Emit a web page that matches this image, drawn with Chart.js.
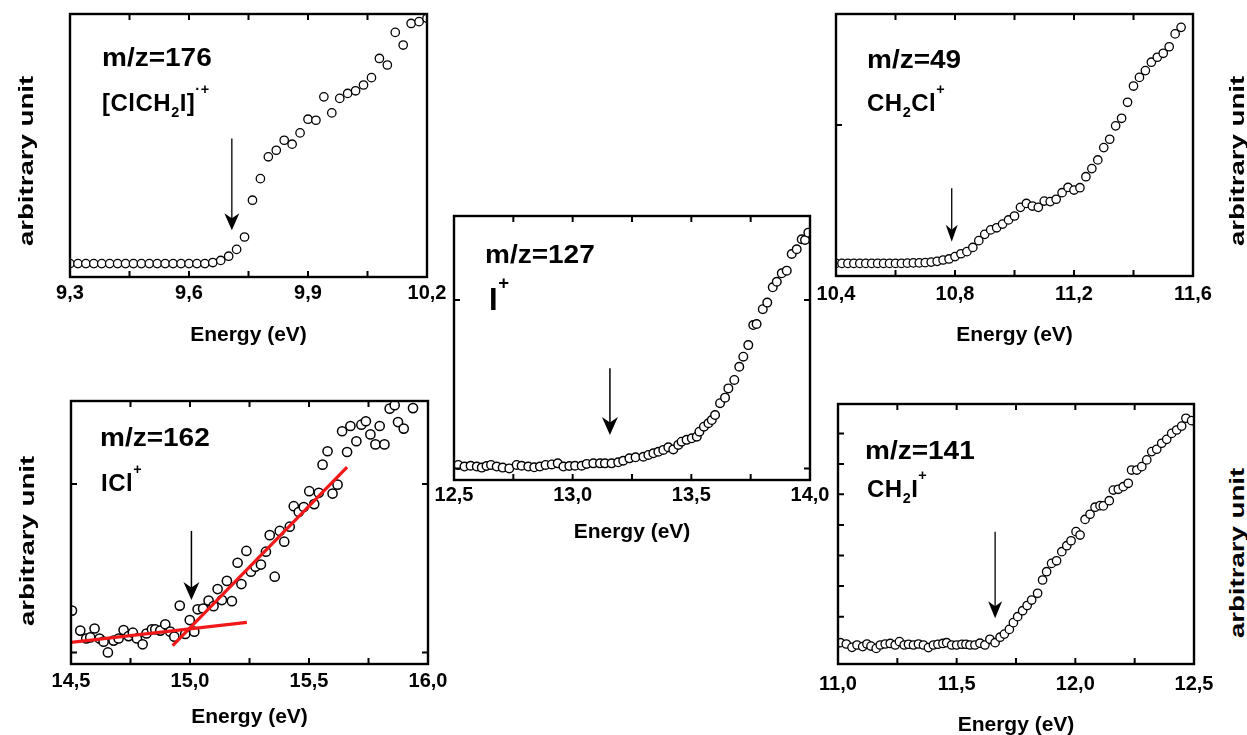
<!DOCTYPE html>
<html>
<head>
<meta charset="utf-8">
<title>Ion yield curves near threshold</title>
<script src="https://cdn.jsdelivr.net/npm/chart.js@4.4.1/dist/chart.umd.min.js"></script>
<style>
  html, body { margin: 0; padding: 0; background: #fff; }
  #page { position: relative; width: 1247px; height: 735px; overflow: hidden;
          font-family: "Liberation Sans", Arial, sans-serif; font-weight: bold; color: #000; }
  #page canvas { position: absolute; }
  .lbl { position: absolute; line-height: 1; white-space: nowrap; }
  .mz { font-size: 25px; transform: scaleX(1.12); transform-origin: left center; }
  .ion { font-size: 24px; letter-spacing: 0.5px; }
  .ion sub, .ion sup { font-size: 0.6em; position: relative; vertical-align: baseline; line-height: 0; }
  .ion sub { top: 0.45em; }
  .ion sup { top: -1.15em; }
  .yt { position: absolute; font-size: 20px; line-height: 1; white-space: nowrap;
        transform: translate(-50%, -50%) rotate(-90deg) scaleX(1.38); }
</style>
</head>
<body>
<div id="page">
  <div class="lbl mz" style="left:102px;top:45px">m/z=176</div>
  <div class="lbl ion" style="left:102px;top:91px">[ClCH<sub>2</sub>I]<sup>·+</sup></div>

  <div class="lbl mz" style="left:867px;top:47px">m/z=49</div>
  <div class="lbl ion" style="left:867px;top:91px">CH<sub>2</sub>Cl<sup>+</sup></div>

  <div class="lbl mz" style="left:485px;top:242px">m/z=127</div>
  <div class="lbl ion" style="left:489px;top:284px;font-size:31px">I<sup>+</sup></div>

  <div class="lbl mz" style="left:100px;top:425px">m/z=162</div>
  <div class="lbl ion" style="left:101px;top:471px">ICl<sup>+</sup></div>

  <div class="lbl mz" style="left:865px;top:438px">m/z=141</div>
  <div class="lbl ion" style="left:867px;top:477px">CH<sub>2</sub>I<sup>+</sup></div>

  <div class="yt" style="left:26px;top:161px">arbitrary unit</div>
  <div class="yt" style="left:27px;top:541px">arbitrary unit</div>
  <div class="yt" style="left:1237px;top:161px">arbitrary unit</div>
  <div class="yt" style="left:1237px;top:553px">arbitrary unit</div>
</div>
<script>
// ---- data (energy in eV, signal in arbitrary units 0-100) ----

// m/z=176  [ClCH2I]+
const e176 = [9.30, 9.32, 9.34, 9.36, 9.38, 9.40, 9.42, 9.44, 9.46, 9.48, 9.50, 9.52, 9.54, 9.56, 9.58, 9.60, 9.62, 9.64,
  9.66, 9.68, 9.70, 9.72, 9.74, 9.76, 9.78, 9.80, 9.82, 9.84, 9.86, 9.88, 9.90, 9.92, 9.94, 9.96, 9.98, 10.00,
  10.02, 10.04, 10.06, 10.08, 10.10, 10.12, 10.14, 10.16, 10.18, 10.20];
const i176 = [5.1, 5.1, 5.1, 5.1, 5.1, 5.1, 5.1, 5.1, 5.1, 5.1, 5.1, 5.1, 5.1, 5.1, 5.1, 5.1, 5.1, 5.1,
  5.5, 6.3, 7.9, 10.5, 15.2, 29.2, 37.4, 45.7, 48.2, 52.0, 50.5, 54.8, 60.0, 59.6, 68.5, 62.4, 67.9, 69.8,
  70.8, 73.0, 75.8, 83.1, 80.6, 93.0, 88.2, 96.4, 97.1, 98.4];
const arrow176 = [9.708, 52.7, 17.8];

// m/z=49  CH2Cl+
const e49 = [10.40, 10.42, 10.44, 10.46, 10.48, 10.50, 10.52, 10.54, 10.56, 10.58, 10.60, 10.62, 10.64, 10.66, 10.68, 10.70,
  10.72, 10.74, 10.76, 10.78, 10.80, 10.82, 10.84, 10.86, 10.88, 10.90, 10.92, 10.94, 10.96, 10.98, 11.00,
  11.02, 11.04, 11.06, 11.08, 11.10, 11.12, 11.14, 11.16, 11.18, 11.20, 11.22, 11.24, 11.26, 11.28, 11.30,
  11.32, 11.34, 11.36, 11.38, 11.40, 11.42, 11.44, 11.46, 11.48, 11.50, 11.52, 11.54, 11.56];
const i49 = [4.8, 4.8, 4.8, 4.8, 4.8, 4.8, 4.8, 4.8, 4.8, 4.8, 4.8, 4.8, 4.9, 5.0, 5.0, 5.1,
  5.3, 5.6, 6.1, 6.5, 7.4, 8.5, 9.3, 10.9, 13.5, 15.9, 17.6, 18.4, 19.8, 21.4, 22.9,
  26.2, 27.7, 26.7, 26.2, 28.6, 28.4, 29.3, 31.8, 33.8, 32.8, 33.7, 37.9, 41.0, 44.3, 49.0,
  52.2, 57.3, 60.2, 66.3, 72.5, 75.8, 78.4, 81.6, 83.5, 85.0, 87.5, 92.4, 94.9];
const arrow49 = [10.789, 33.5, 13.1];

// m/z=127  I+
const e127 = [12.518, 12.544, 12.570, 12.596, 12.617, 12.637, 12.656, 12.680, 12.705, 12.733,
  12.764, 12.785, 12.813, 12.838, 12.862, 12.886, 12.912, 12.937, 12.961, 12.986,
  13.010, 13.038, 13.059, 13.087, 13.115, 13.136, 13.164, 13.192, 13.213, 13.239, 13.265,
  13.298, 13.319, 13.340, 13.361, 13.382, 13.403, 13.424, 13.445, 13.459, 13.480,
  13.502, 13.523, 13.534, 13.553, 13.572, 13.586, 13.600, 13.621, 13.642, 13.656,
  13.681, 13.702, 13.719, 13.740, 13.761, 13.775, 13.801, 13.820, 13.843, 13.860,
  13.881, 13.902, 13.923, 13.944, 13.965, 13.979, 13.993];
const i127 = [5.7, 5.1, 5.4, 5.1, 4.7, 5.3, 5.7, 5.1, 4.7, 4.4,
  5.7, 5.4, 5.1, 4.8, 5.1, 5.7, 5.9, 6.3, 5.1, 5.3,
  5.4, 5.4, 6.1, 6.3, 6.3, 6.3, 6.3, 6.7, 7.3, 8.2, 8.6,
  8.8, 9.5, 10.1, 10.7, 11.4, 12.4, 11.6, 13.3, 14.5, 15.2,
  15.8, 16.4, 18.3, 20.2, 21.5, 22.7, 24.6, 29.1, 31.2, 34.7,
  37.9, 42.9, 46.7, 51.1, 58.7, 59.1, 64.7, 67.2, 73.0, 75.1,
  78.3, 79.3, 85.6, 87.4, 91.2, 90.9, 93.7];
const arrow127 = [13.157, 42.3, 17.0];

// m/z=162  ICl+
const e162 = [14.504, 14.539, 14.564, 14.581, 14.599, 14.620, 14.637, 14.655, 14.679, 14.700,
  14.721, 14.742, 14.760, 14.777, 14.801, 14.817, 14.840, 14.854, 14.875, 14.896,
  14.917, 14.934, 14.957, 14.980, 14.999, 15.018, 15.032, 15.055, 15.078, 15.099,
  15.116, 15.134, 15.155, 15.176, 15.200, 15.216, 15.237, 15.256, 15.275, 15.298,
  15.319, 15.335, 15.356, 15.377, 15.396, 15.419, 15.436, 15.457, 15.478, 15.501,
  15.522, 15.541, 15.557, 15.578, 15.599, 15.620, 15.639, 15.660, 15.674, 15.699,
  15.720, 15.739, 15.758, 15.779, 15.797, 15.817, 15.839, 15.860, 15.874, 15.898, 15.937];
const i162 = [20.3, 12.7, 9.7, 10.1, 13.5, 9.7, 8.5, 4.4, 8.9, 9.7,
  12.9, 10.6, 11.9, 9.7, 7.5, 11.6, 13.2, 13.2, 12.7, 15.1,
  12.3, 10.4, 22.2, 11.4, 16.7, 12.3, 20.8, 21.1, 24.1, 22.0,
  28.5, 24.3, 31.6, 23.9, 38.5, 30.4, 43.0, 35.1, 37.0, 37.8,
  42.7, 49.0, 33.2, 50.6, 46.5, 52.2, 60.0, 57.8, 59.7, 65.7,
  60.8, 65.1, 75.8, 80.9, 64.8, 68.2, 88.5, 80.6, 90.5, 84.7,
  91.0, 92.3, 87.3, 83.5, 90.5, 83.5, 97.1, 98.4, 92.0, 89.5, 97.3];
// linear fits below / above threshold
const fitBaseX = [14.50, 15.239];
const fitBaseY = [8.2, 15.8];
const fitRiseX = [14.927, 15.660];
const fitRiseY = [7.0, 74.9];
const arrow162 = [15.006, 50.6, 24.3];

// m/z=141  CH2I+
const e141 = [11.010, 11.035, 11.059, 11.080, 11.104, 11.122, 11.139, 11.161, 11.178, 11.199,
  11.220, 11.241, 11.259, 11.279, 11.297, 11.318, 11.339, 11.360, 11.381, 11.402,
  11.421, 11.442, 11.458, 11.479, 11.500, 11.522, 11.539,
  11.556, 11.577, 11.598, 11.619, 11.640, 11.662, 11.683, 11.701, 11.722, 11.739,
  11.757, 11.778, 11.797, 11.816, 11.841, 11.862, 11.879, 11.900, 11.921, 11.943,
  11.964, 11.982, 12.003, 12.020, 12.041, 12.062, 12.083, 12.104, 12.118, 12.143,
  12.160, 12.181, 12.202, 12.223, 12.237, 12.259, 12.280, 12.301, 12.322, 12.343,
  12.364, 12.385, 12.406, 12.427, 12.448, 12.466, 12.490];
const i141 = [8.2, 7.7, 6.4, 7.3, 6.7, 7.7, 6.9, 6.0, 7.3, 7.7,
  7.9, 7.3, 8.6, 7.3, 7.6, 7.3, 7.7, 7.3, 6.3, 7.3,
  7.6, 7.9, 8.2, 7.3, 7.3, 7.6, 7.6,
  7.3, 7.3, 8.0, 7.3, 9.5, 8.2, 10.3, 11.5, 13.3, 15.9,
  18.2, 20.5, 22.5, 24.6, 27.2, 32.3, 35.5, 38.7, 39.7, 43.2,
  45.5, 47.4, 50.9, 49.6, 55.6, 57.6, 60.3, 60.9, 60.8, 62.8,
  66.9, 67.2, 68.2, 69.5, 74.6, 74.6, 75.9, 78.5, 81.7, 82.6,
  84.9, 86.4, 88.7, 90.0, 91.5, 94.5, 93.6];
const arrow141 = [11.662, 50.9, 17.6];

// tick values
const ticks176 = [9.3, 9.6, 9.9, 10.2], minor176 = [9.45, 9.75, 10.05];
const ticks49 = [10.4, 10.8, 11.2, 11.6], minor49 = [10.6, 11.0, 11.4];
const ticks127 = [12.5, 13.0, 13.5, 14.0], minor127 = [12.75, 13.25, 13.75];
const ticks162 = [14.5, 15.0, 15.5, 16.0], minor162 = [14.75, 15.25, 15.75];
const ticks141 = [11.0, 11.5, 12.0, 12.5], minor141 = [11.25, 11.75, 12.25];
const yTicks49 = [57.6];
const yTicks127 = [4.4, 68.2];
const yTicks162 = [4.4, 68.4];
const yTicks141 = [18.2, 30.0, 41.7, 53.5, 65.3, 76.9, 88.7];

// frame, inward ticks and threshold arrow
const frameTicks = {
  id: 'frameTicks',
  afterDatasetsDraw(chart, args, o) {
    const {ctx, chartArea: a, scales: {x, y}} = chart;
    const len = 6;
    ctx.save();
    ctx.strokeStyle = '#000';
    ctx.fillStyle = '#000';
    ctx.lineWidth = 2;
    ctx.beginPath();
    o.xTicks.forEach(v => {
      const px = x.getPixelForValue(v);
      ctx.moveTo(px, a.bottom); ctx.lineTo(px, a.bottom - len);
      ctx.moveTo(px, a.top); ctx.lineTo(px, a.top + len);
    });
    o.yLeft.forEach(v => {
      const py = y.getPixelForValue(v);
      ctx.moveTo(a.left, py); ctx.lineTo(a.left + len, py);
    });
    o.yRight.forEach(v => {
      const py = y.getPixelForValue(v);
      ctx.moveTo(a.right, py); ctx.lineTo(a.right - len, py);
    });
    ctx.stroke();

    if (o.arrow) {
      const [hw, hl] = o.head;
      const ax = x.getPixelForValue(o.arrow[0]);
      const y0 = y.getPixelForValue(o.arrow[1]);
      const y1 = y.getPixelForValue(o.arrow[2]);
      ctx.lineWidth = o.arrowW;
      ctx.beginPath(); ctx.moveTo(ax, y0); ctx.lineTo(ax, y1 - hl * 0.6); ctx.stroke();
      ctx.beginPath();
      ctx.moveTo(ax, y1);
      ctx.lineTo(ax - hw, y1 - hl);
      ctx.lineTo(ax, y1 - hl * 0.7);
      ctx.lineTo(ax + hw, y1 - hl);
      ctx.closePath();
      ctx.fill();
    }

    ctx.lineWidth = 2.4;
    ctx.strokeRect(a.left, a.top, a.width, a.height);
    ctx.restore();
  }
};

const tickFont = {family: '"Liberation Sans", Arial, sans-serif', size: 20, weight: 'bold'};
const titleFont = {family: '"Liberation Sans", Arial, sans-serif', size: 21, weight: 'bold'};

const PANELS = [
  {frame: [70, 14, 427, 277], pad: [70, 14, 30, 71], tickPad: 4.5,
   x: e176, y: i176, major: ticks176, minor: minor176, yLeft: [], yRight: [],
   arrow: arrow176, arrowW: 1.3, head: [7.5, 17], r: 4.2, bw: 1.3},
  {frame: [836, 14, 1193, 276], pad: [30, 14, 30, 72], tickPad: 6.5,
   x: e49, y: i49, major: ticks49, minor: minor49, yLeft: yTicks49, yRight: [],
   arrow: arrow49, arrowW: 1.3, head: [6, 17], r: 4.2, bw: 1.3},
  {frame: [454, 216, 810, 480], pad: [30, 10, 30, 65], tickPad: 3,
   x: e127, y: i127, major: ticks127, minor: minor127, yLeft: yTicks127, yRight: yTicks127,
   arrow: arrow127, arrowW: 1.5, head: [8, 18], r: 4.3, bw: 1.4},
  {frame: [71, 401, 428, 664], pad: [71, 10, 30, 66], tickPad: 5.5,
   x: e162, y: i162, major: ticks162, minor: minor162, yLeft: yTicks162, yRight: yTicks162,
   arrow: arrow162, arrowW: 1.5, head: [8, 18], r: 4.6, bw: 1.5,
   fits: [[fitBaseX, fitBaseY], [fitRiseX, fitRiseY]]},
  {frame: [838, 404, 1194, 664], pad: [32, 10, 30, 74], tickPad: 8.5,
   x: e141, y: i141, major: ticks141, minor: minor141, yLeft: yTicks141, yRight: [],
   arrow: arrow141, arrowW: 1.3, head: [7, 17], r: 4.2, bw: 1.3}
];

const page = document.getElementById('page');

function makePanel(p) {
  const [L, T, R, B] = p.frame;
  const [pl, pt, pr, pb] = p.pad;
  const cv = document.createElement('canvas');
  cv.width = R - L + pl + pr;
  cv.height = B - T + pt + pb;
  cv.style.left = (L - pl) + 'px';
  cv.style.top = (T - pt) + 'px';
  page.insertBefore(cv, page.firstChild);

  const datasets = [];
  (p.fits || []).forEach(([fx, fy]) => {
    datasets.push({
      type: 'line',
      data: fx.map((v, i) => ({x: v, y: fy[i]})),
      borderColor: '#f01818', borderWidth: 3.2, pointRadius: 0, showLine: true, clip: 0
    });
  });
  datasets.push({
    data: p.x.map((v, i) => ({x: v, y: p.y[i]})),
    pointStyle: 'circle', pointRadius: p.r, pointBorderWidth: p.bw,
    pointBackgroundColor: '#fff', pointBorderColor: '#000', clip: 0
  });

  new Chart(cv, {
    type: 'scatter',
    data: {datasets},
    options: {
      responsive: false,
      animation: false,
      events: [],
      layout: {padding: {left: pl, top: pt, right: pr, bottom: 0}},
      plugins: {
        legend: {display: false},
        tooltip: {enabled: false},
        frameTicks: {
          xTicks: p.major.concat(p.minor), yLeft: p.yLeft, yRight: p.yRight,
          arrow: p.arrow, arrowW: p.arrowW, head: p.head
        }
      },
      scales: {
        x: {
          type: 'linear',
          min: p.major[0],
          max: p.major[p.major.length - 1],
          grid: {display: false, drawTicks: false},
          border: {display: false},
          afterBuildTicks: s => { s.ticks = p.major.map(v => ({value: v})); },
          afterFit: s => { s.height = pb; },
          ticks: {
            autoSkip: false, maxRotation: 0, padding: p.tickPad, color: '#000', font: tickFont,
            callback: v => Number(v).toFixed(1).replace('.', ',')
          },
          title: {display: true, text: 'Energy (eV)', color: '#000', font: titleFont, padding: 0}
        },
        y: {display: false, min: 0, max: 100}
      }
    },
    plugins: [frameTicks]
  });
}

PANELS.forEach(makePanel);
</script>
</body>
</html>
